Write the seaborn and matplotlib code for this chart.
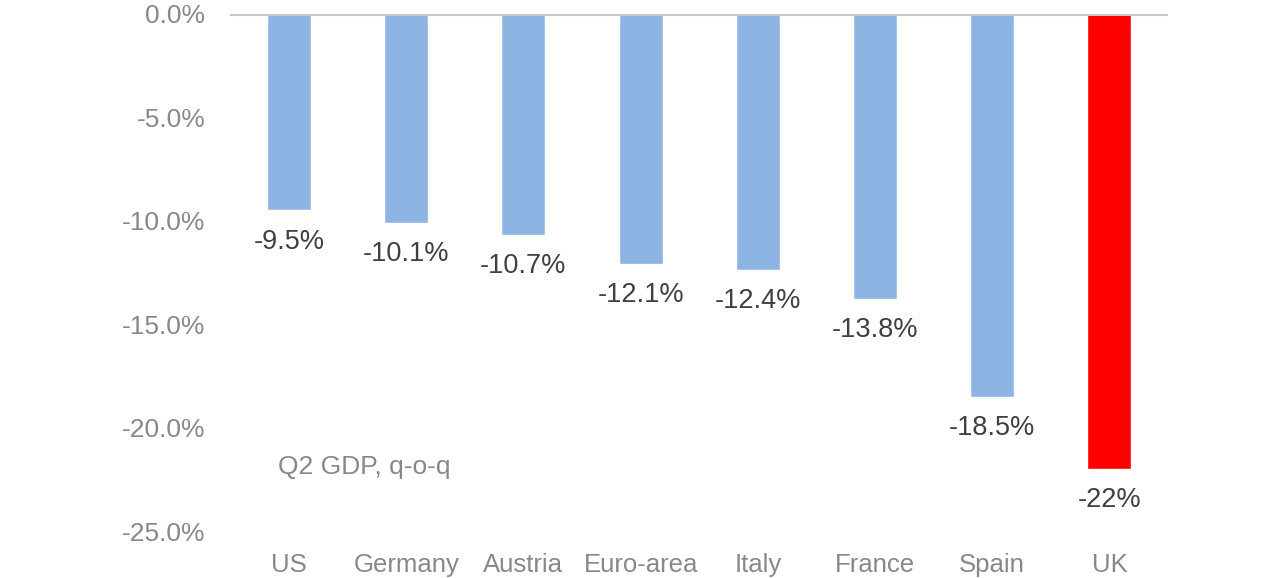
import pandas as pd
import seaborn as sns
import matplotlib.pyplot as plt

# Q2 GDP change, quarter on quarter (%)
countries = ['US', 'Germany', 'Austria', 'Euro-area', 'Italy', 'France', 'Spain', 'UK']
gdp_change = [-9.5, -10.1, -10.7, -12.1, -12.4, -13.8, -18.5, -22.0]
value_labels = ['-9.5%', '-10.1%', '-10.7%', '-12.1%', '-12.4%', '-13.8%', '-18.5%', '-22%']
y_ticks = [0, -5, -10, -15, -20, -25]

df = pd.DataFrame({'country': countries, 'gdp': gdp_change})

sns.set_style('white')
plt.rcParams['font.family'] = ['Liberation Sans', 'DejaVu Sans']

blue = '#8EB4E3'
red = '#FF0000'
palette = {c: (red if c == 'UK' else blue) for c in countries}

fig = plt.figure(figsize=(12.8, 5.78), dpi=100)
ax = fig.add_axes([0.18, 0.0813, 0.7325, 0.8945])

sns.barplot(data=df, x='country', y='gdp', hue='country', palette=palette,
            width=0.375, saturation=1, legend=False, ax=ax)

ax.set_xlim(-0.5, len(countries) - 0.5)
ax.set_ylim(-25, 0)
ax.axhline(0, color='#C8C8C8', lw=2.2, zorder=3)

# value labels under each bar
for i, (v, lab) in enumerate(zip(gdp_change, value_labels)):
    ax.annotate(lab, (i, v), xytext=(0, -13), textcoords='offset points',
                ha='center', va='top', fontsize=19.5, color='#404040')

ax.set_yticks(y_ticks)
ax.set_yticklabels([f'{t:.1f}%' for t in y_ticks])
ax.tick_params(axis='y', labelsize=19, labelcolor='#888888', length=0, pad=18)
ax.tick_params(axis='x', labelsize=18.5, labelcolor='#888888', length=0, pad=16)
ax.set_xlabel('')
ax.set_ylabel('')
for s in ax.spines.values():
    s.set_visible(False)

ax.text(0.051, 0.124, 'Q2 GDP, q-o-q', transform=ax.transAxes, fontsize=19,
        color='#888888', ha='left', va='center')

fig.savefig('out.png', dpi=100)
